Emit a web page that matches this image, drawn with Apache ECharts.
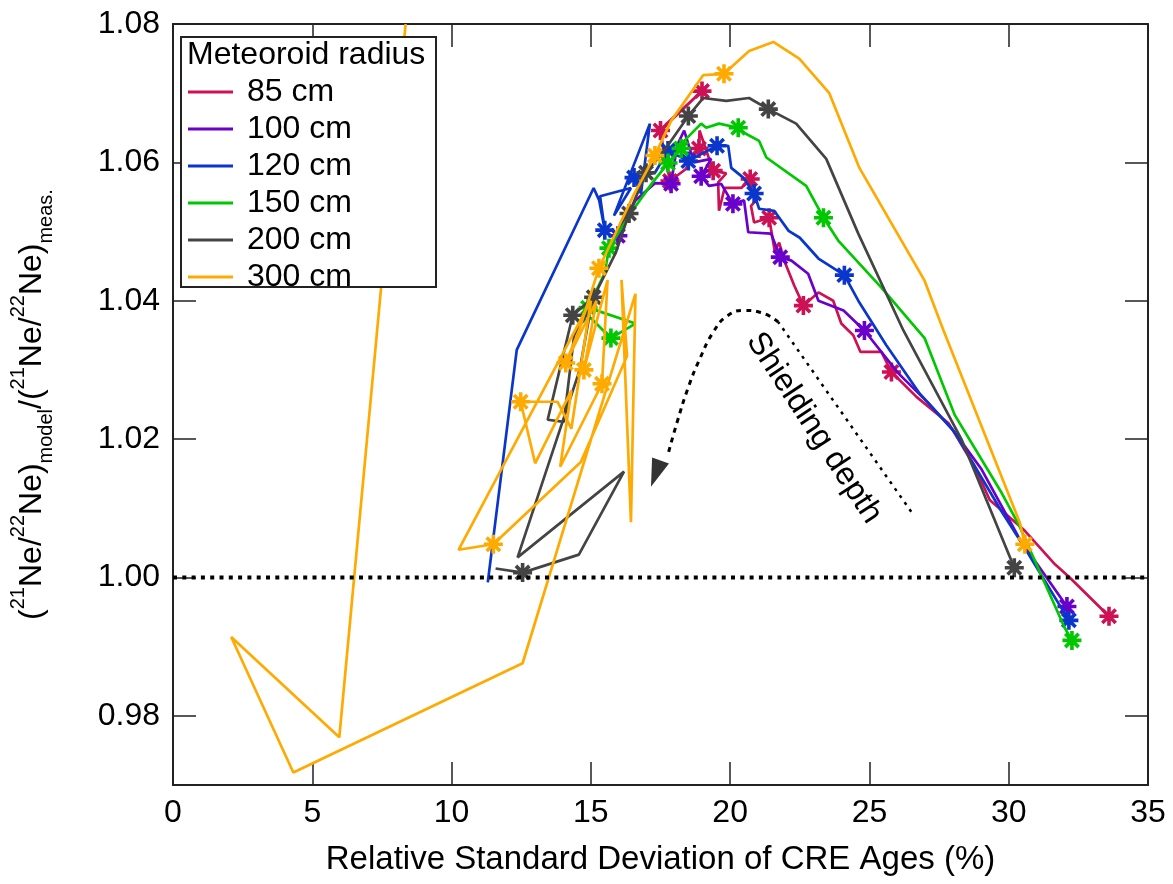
<!DOCTYPE html>
<html>
<head>
<meta charset="utf-8">
<script src="https://cdn.jsdelivr.net/npm/echarts@6/dist/echarts.min.js"></script>
<style>
  html, body { margin: 0; padding: 0; background: #fff; }
  #chart { width: 1173px; height: 884px; }
</style>
</head>
<body>
<div id="chart"></div>
<script>
// Meteoroid radii shown in the legend
const radiusNames = ["85 cm", "100 cm", "120 cm", "150 cm", "200 cm", "300 cm"];
const radiusColors = ["#cc1155", "#6a00cc", "#0a36cc", "#00c800", "#444444", "#ffaa00"];

// [RSD of CRE ages (%), ratio model/meas, star marker 1/0] from shallow to deep
const r85 = [
  [33.6, 0.9944, 1], [32.16, 1.0001, 0], [31.66, 1.0019, 0], [30.54, 1.0069, 0], [29.32, 1.0112, 0],
  [28.78, 1.016, 0], [27.84, 1.0223, 0], [26.69, 1.0261, 0], [25.79, 1.0297, 1], [25.43, 1.0326, 0],
  [24.68, 1.0326, 0], [24.42, 1.035, 0], [23.99, 1.0367, 0], [23.7, 1.040, 0], [23.17, 1.0412, 0],
  [22.63, 1.0393, 1], [22.3, 1.0422, 0], [21.94, 1.0458, 0], [21.76, 1.0484, 0], [21.6, 1.0472, 0],
  [21.4, 1.052, 1], [20.86, 1.0513, 0], [20.75, 1.0537, 0], [21.0, 1.0548, 0], [20.72, 1.0576, 1],
  [20.4, 1.0563, 0], [19.8, 1.0563, 0], [19.6, 1.053, 0], [19.57, 1.0571, 0], [19.86, 1.0584, 0],
  [19.39, 1.0588, 1], [18.9, 1.0646, 0], [18.88, 1.062, 1], [18.4, 1.059, 0], [17.84, 1.0573, 1],
  [17.6, 1.062, 0], [17.5, 1.0646, 1], [18.99, 1.0703, 1], [17.7, 1.0655, 0]
];
const r100 = [
  [32.09, 0.9958, 1], [30.4, 1.0055, 0], [29.03, 1.0156, 0], [28.0, 1.0213, 0], [27.12, 1.0252, 0],
  [26.04, 1.0295, 0], [24.82, 1.0357, 1], [24.07, 1.0386, 0], [23.17, 1.040, 0], [22.8, 1.0439, 0],
  [22.2, 1.0458, 0], [21.8, 1.0463, 1], [21.47, 1.0497, 0], [20.65, 1.0499, 0], [20.5, 1.0545, 0],
  [20.1, 1.054, 1], [19.68, 1.0569, 0], [19.24, 1.0566, 0], [18.96, 1.058, 1], [19.32, 1.0605, 0],
  [18.7, 1.060, 0], [18.35, 1.0646, 0], [18.1, 1.0625, 0], [17.88, 1.0569, 1], [17.3, 1.057, 0],
  [16.6, 1.0545, 0], [15.97, 1.0494, 1], [16.3, 1.053, 0]
];
const r120 = [
  [32.16, 0.9938, 1], [30.54, 1.0045, 0], [29.75, 1.0095, 0], [28.06, 1.021, 0], [26.8, 1.0266, 0],
  [25.6, 1.0336, 0], [24.6, 1.040, 0], [24.1, 1.0437, 1], [23.17, 1.0461, 0], [22.5, 1.0491, 0],
  [22.1, 1.0501, 0], [21.58, 1.053, 0], [21.04, 1.0533, 0], [20.86, 1.0555, 1], [20.47, 1.0578, 0],
  [20.04, 1.0592, 0], [19.93, 1.0624, 0], [19.53, 1.0624, 1], [19.06, 1.0614, 0], [18.5, 1.0602, 1],
  [17.77, 1.0617, 1], [17.3, 1.0585, 0], [16.55, 1.0578, 1], [16.8, 1.0555, 0], [17.12, 1.0656, 0],
  [15.83, 1.0523, 0], [16.44, 1.0563, 0], [15.33, 1.0551, 0], [15.5, 1.0502, 1], [15.3, 1.0545, 0],
  [15.1, 1.0563, 0], [12.34, 1.0329, 0], [11.3, 0.9993, 0]
];
const r150 = [
  [32.27, 0.9909, 1], [32.0, 0.9928, 0], [30.4, 1.0073, 0], [29.75, 1.0122, 0], [28.06, 1.0235, 0],
  [26.98, 1.0346, 0], [25.43, 1.0419, 0], [23.88, 1.0487, 0], [23.35, 1.052, 1], [22.73, 1.0566, 0],
  [21.3, 1.0607, 0], [21.04, 1.0631, 0], [20.58, 1.0641, 0], [20.29, 1.065, 1], [19.6, 1.0656, 0],
  [19.14, 1.065, 0], [18.96, 1.0656, 0], [18.35, 1.0631, 0], [18.24, 1.062, 1], [17.77, 1.0599, 1],
  [17.2, 1.057, 0], [16.4, 1.0525, 0], [15.65, 1.0476, 1], [15.5, 1.044, 0], [14.9, 1.039, 1],
  [16.6, 1.0367, 0], [15.72, 1.0346, 1], [15.0, 1.0375, 0], [14.7, 1.037, 0]
];
const r200 = [
  [30.2, 1.0014, 1], [28.3, 1.020, 0], [26.22, 1.0357, 0], [24.6, 1.0497, 0], [23.45, 1.0605, 0],
  [22.37, 1.0656, 0], [21.37, 1.0677, 1], [20.68, 1.0693, 0], [19.86, 1.0689, 0], [19.03, 1.0693, 0],
  [18.5, 1.0667, 1], [17.6, 1.0615, 0], [16.98, 1.0585, 1], [16.37, 1.0526, 1], [15.9, 1.047, 0],
  [15.1, 1.0405, 1], [14.35, 1.0379, 1], [13.45, 1.0228, 0], [14.03, 1.0225, 0], [14.4, 1.035, 0],
  [15.0, 1.039, 0], [14.6, 1.030, 0], [12.37, 1.0029, 0], [16.19, 1.0153, 0], [14.57, 1.0033, 0],
  [12.55, 1.0007, 1], [11.58, 1.0013, 0]
];
const r300 = [
  [30.58, 1.0048, 1], [30.4, 1.0079, 0], [27.66, 1.0357, 0], [26.98, 1.0429, 0], [24.64, 1.0592, 0],
  [23.56, 1.070, 0], [22.48, 1.075, 0], [21.55, 1.0774, 0], [20.68, 1.0761, 0], [19.78, 1.0728, 1],
  [19.03, 1.0726, 0], [17.88, 1.066, 0], [17.3, 1.061, 1], [16.5, 1.055, 0], [15.29, 1.0447, 1],
  [14.6, 1.036, 0], [14.1, 1.031, 1], [15.2, 1.040, 0], [14.75, 1.030, 1], [15.6, 1.043, 0],
  [15.4, 1.028, 1], [13.9, 1.016, 0], [14.3, 1.027, 0], [13.0, 1.0165, 0], [12.48, 1.0254, 1],
  [13.8, 1.0254, 0], [14.3, 1.0215, 0], [15.0, 1.040, 0], [10.25, 1.004, 0], [11.5, 1.0048, 1],
  [14.64, 1.0167, 0], [16.3, 1.032, 0], [16.1, 1.043, 0], [16.44, 1.008, 0], [16.6, 1.041, 0],
  [12.55, 0.9876, 0], [4.32, 0.9718, 0], [2.09, 0.9914, 0], [5.97, 0.9769, 0], [8.35, 1.080, 0]
];
const radiusSeries = [r85, r100, r120, r150, r200, r300];

const xTicks = [0, 5, 10, 15, 20, 25, 30, 35];
const yTicks = [0.98, 1.00, 1.02, 1.04, 1.06, 1.08];

// reference line and "Shielding depth" arrow, in data units
const unityLine = [[0, 1.0], [35, 1.0]];
const arrowStraight = [[26.5, 1.0095], [21.73, 1.0369]];
const arrowCurve = [[21.73, 1.0369], [21.1, 1.0383], [20.5, 1.0386], [19.9, 1.0378], [19.4, 1.0355],
  [18.9, 1.0315], [18.5, 1.0275], [18.1, 1.0225], [17.75, 1.0175]];
const arrowHead = [17.33, 1.0150];

const FONT = "Liberation Sans, Arial, Helvetica, sans-serif";

function asteriskPath(arms, half, w) {
  let d = "";
  for (let k = 0; k < arms; k++) {
    const a = Math.PI * k / arms;
    const c = Math.cos(a), s = Math.sin(a);
    const pts = [[-half, -w], [half, -w], [half, w], [-half, w]]
      .map(([u, v]) => [u * c - v * s, u * s + v * c]);
    d += "M" + pts.map(p => p[0].toFixed(2) + " " + p[1].toFixed(2)).join("L") + "Z";
  }
  return "path://" + d;
}
const STAR = asteriskPath(4, 10, 1.9);

function radiusLine(points, i) {
  const color = radiusColors[i];
  return {
    name: radiusNames[i],
    type: "line",
    data: points.map(p => p[2] ? { value: [p[0], p[1]] } : { value: [p[0], p[1]], symbol: "none" }),
    symbol: STAR,
    symbolSize: 19,
    showSymbol: true,
    lineStyle: { width: 2.7, color: color },
    itemStyle: { color: color },
    emphasis: { disabled: true },
    z: 3 + i,
    clip: true
  };
}

const axisColor = "#222";
const tickStyle = { inside: true, length: 23, lineStyle: { color: axisColor, width: 1.5 } };

const chart = echarts.init(document.getElementById("chart"));
chart.setOption({
  animation: false,
  backgroundColor: "#fff",
  textStyle: { fontFamily: FONT },
  grid: { left: 173, right: 25, top: 24, bottom: 99 },
  legend: {
    data: radiusNames,
    orient: "vertical",
    left: 188,
    top: 76,
    padding: 0,
    icon: "rect",
    itemWidth: 45,
    itemHeight: 3,
    itemGap: 5,
    selectedMode: false,
    z: 60,
    textStyle: { fontSize: 32, fontFamily: FONT, color: "#000", lineHeight: 30, padding: [0, 0, 0, 9] }
  },
  graphic: [
    {
      type: "rect", z: 50,
      shape: { x: 181, y: 37, width: 255, height: 250 },
      style: { fill: "#fff", stroke: "#222", lineWidth: 2 }
    },
    {
      type: "text", z: 51, x: 187, y: 55,
      style: { text: "Meteoroid radius", fontSize: 32, fontFamily: FONT, fill: "#000", verticalAlign: "middle" }
    },
    {
      type: "text", z: 20, x: 814, y: 428, rotation: -0.99,
      style: { text: "Shielding depth", fontSize: 32, fontFamily: FONT, fill: "#000", align: "center", verticalAlign: "middle" }
    }
  ],
  xAxis: [
    {
      type: "value", min: xTicks[0], max: xTicks[xTicks.length - 1], interval: 5, position: "bottom",
      axisLine: { onZero: false, lineStyle: { color: axisColor, width: 2 } },
      axisTick: tickStyle,
      axisLabel: { fontSize: 32, color: "#000", margin: 12, fontFamily: FONT },
      splitLine: { show: false },
      name: "Relative Standard Deviation of CRE Ages (%)",
      nameLocation: "middle",
      nameGap: 58,
      nameTextStyle: { fontSize: 33, color: "#000", fontFamily: FONT }
    },
    {
      type: "value", min: xTicks[0], max: xTicks[xTicks.length - 1], interval: 5, position: "top",
      axisLine: { onZero: false, lineStyle: { color: axisColor, width: 2 } },
      axisTick: tickStyle,
      axisLabel: { show: false },
      splitLine: { show: false }
    }
  ],
  yAxis: [
    {
      type: "value", min: 0.97, max: 1.08, position: "left",
      axisLine: { onZero: false, lineStyle: { color: axisColor, width: 2 } },
      axisTick: Object.assign({ customValues: yTicks }, tickStyle),
      axisLabel: {
        customValues: yTicks, fontSize: 32, color: "#000", margin: 13, fontFamily: FONT,
        formatter: v => v.toFixed(2)
      },
      splitLine: { show: false },
      name: "({sup|21}Ne/{sup|22}Ne){sub|model}/({sup|21}Ne/{sup|22}Ne){sub|meas.}",
      nameLocation: "middle",
      nameRotate: 90,
      nameGap: 117,
      nameTextStyle: {
        fontSize: 32, color: "#000", fontFamily: FONT, lineHeight: 48,
        rich: {
          sup: { fontSize: 20, lineHeight: 20, verticalAlign: "top", fontFamily: FONT, color: "#000" },
          sub: { fontSize: 20, lineHeight: 20, verticalAlign: "bottom", fontFamily: FONT, color: "#000" }
        }
      }
    },
    {
      type: "value", min: 0.97, max: 1.08, position: "right",
      axisLine: { onZero: false, lineStyle: { color: axisColor, width: 2 } },
      axisTick: Object.assign({ customValues: yTicks }, tickStyle),
      axisLabel: { show: false },
      splitLine: { show: false }
    }
  ],
  series: radiusSeries.map(radiusLine).concat([
    {
      type: "line", data: unityLine, symbol: "none", z: 12, silent: true,
      lineStyle: { color: "#000", width: 4, type: [4, 5.3], cap: "butt" }
    },
    {
      type: "line", data: arrowStraight, symbol: "none", z: 12, silent: true,
      lineStyle: { color: "#000", width: 2.5, type: [3, 5.5] }
    },
    {
      type: "line", data: arrowCurve, symbol: "none", smooth: 0.5, z: 12, silent: true,
      lineStyle: { color: "#000", width: 3, type: [5, 5] }
    },
    {
      type: "scatter", data: [arrowHead], symbol: "triangle", symbolSize: [18, 28], symbolRotate: 160,
      itemStyle: { color: "#000" }, z: 12, silent: true
    }
  ])
});
</script>
</body>
</html>
